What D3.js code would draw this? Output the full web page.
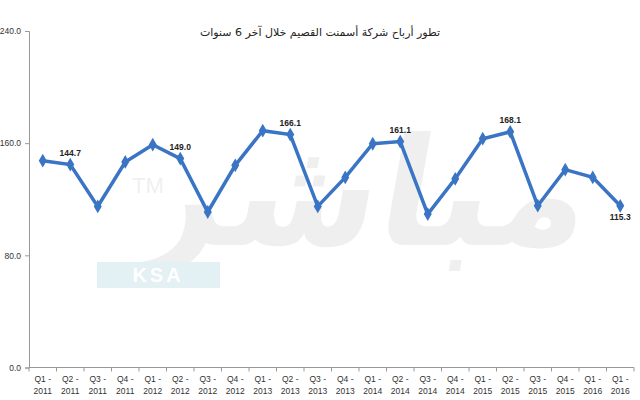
<!DOCTYPE html>
<html><head><meta charset="utf-8">
<script src="https://cdn.jsdelivr.net/npm/d3@7"></script>
<style>body{margin:0;background:#fff}svg{display:block}</style>
</head><body>
<svg id="c" width="640" height="400"></svg>
<script>
const title = "تطور أرباح شركة أسمنت القصيم خلال آخر 6 سنوات";
const quarters = ["Q1 -","Q2 -","Q3 -","Q4 -","Q1 -","Q2 -","Q3 -","Q4 -","Q1 -","Q2 -","Q3 -","Q4 -","Q1 -","Q2 -","Q3 -","Q4 -","Q1 -","Q2 -","Q3 -","Q4 -","Q1 -","Q1 -"];
const years = ["2011","2011","2011","2011","2012","2012","2012","2012","2013","2013","2013","2013","2014","2014","2014","2014","2015","2015","2015","2015","2016","2016"];
const profits = [147.5,144.7,114.9,146.6,158.9,149.0,110.9,144.2,168.9,166.1,114.9,135.6,159.6,161.1,109.4,134.6,163.2,168.1,115.4,141.1,135.6,115.3];
const labelled = [1,5,9,13,17,21];
const yTicks = [0,80,160,240];

const svg = d3.select("#c");
const ids = profits.map((d,i)=>i);
const x = d3.scaleBand().domain(ids).range([29,634]);
const y = d3.scaleLinear().domain([0,240]).range([367.5,31]);
const cx = i => x(i) + x.bandwidth()/2;

// watermark
const wm = svg.append("g").attr("opacity",0.06);
wm.append("text").attr("x",400).attr("y",245).attr("text-anchor","middle")
  .attr("font-family","Noto Sans, DejaVu Sans").attr("font-weight","bold").attr("font-size",150)
  .attr("fill","#000").attr("transform","skewX(-10)").text("مباشر");
wm.append("text").attr("x",148).attr("y",193).attr("text-anchor","middle")
  .attr("font-family","Liberation Sans").attr("font-size",22).attr("fill","#000").text("TM");
svg.append("rect").attr("x",97).attr("y",262).attr("width",123).attr("height",26).attr("fill","#e3f0f4");
svg.append("text").attr("x",158).attr("y",282).attr("text-anchor","middle")
  .attr("font-family","Liberation Sans").attr("font-weight","bold").attr("font-size",20)
  .attr("fill","#ffffff").attr("letter-spacing",3).text("KSA");

// title
svg.append("text").attr("x",320).attr("y",36).attr("text-anchor","middle")
  .attr("font-family","DejaVu Sans, Noto Sans").attr("font-size",11).attr("fill","#222").text(title);

// y axis
const ya = svg.append("g").attr("transform","translate(29,0)")
  .call(d3.axisLeft(y).tickValues(yTicks).tickFormat(d3.format(".1f")).tickSize(4).tickPadding(4));
ya.select(".domain").attr("stroke","#999");
ya.selectAll(".tick line").attr("stroke","#999");
ya.selectAll("text").attr("font-family","Liberation Sans, Arial").attr("font-size",8.5).attr("fill","#333");

// x axis
const xa = svg.append("g").attr("transform","translate(0,367.5)");
xa.append("line").attr("x1",29).attr("x2",634).attr("stroke","#999");
xa.selectAll("line.t").data(d3.range(profits.length+1)).enter().append("line")
  .attr("x1",i=>i<profits.length? x(i): x(profits.length-1)+x.bandwidth())
  .attr("x2",i=>i<profits.length? x(i): x(profits.length-1)+x.bandwidth())
  .attr("y1",0).attr("y2",4).attr("stroke","#999");
const xl = xa.selectAll("text.q").data(ids).enter().append("text")
  .attr("x",cx).attr("text-anchor","middle")
  .attr("font-family","Liberation Sans, Arial").attr("font-size",8.5).attr("fill","#333");
xl.append("tspan").attr("x",cx).attr("y",14).text(i=>quarters[i]);
xl.append("tspan").attr("x",cx).attr("y",26).text(i=>years[i]);

// line
const line = d3.line().x((d,i)=>cx(i)).y(d=>y(d));
svg.append("path").datum(profits).attr("d",line).attr("fill","none")
  .attr("stroke","#3a74c4").attr("stroke-width",3.5).attr("stroke-linejoin","miter");
svg.selectAll("path.m").data(profits).enter().append("path")
  .attr("d",d3.symbol(d3.symbolDiamond,55))
  .attr("transform",(d,i)=>`translate(${cx(i)},${y(d)})`).attr("fill","#3a74c4");

// data labels
svg.selectAll("text.v").data(labelled).enter().append("text")
  .attr("x",i=>cx(i)).attr("y",i=>i===21? y(profits[i])+14 : y(profits[i])-9)
  .attr("text-anchor","middle").attr("font-family","Liberation Sans, Arial")
  .attr("font-weight","bold").attr("font-size",8.5).attr("fill","#222")
  .text(i=>profits[i].toFixed(1));
</script>
</body></html>
